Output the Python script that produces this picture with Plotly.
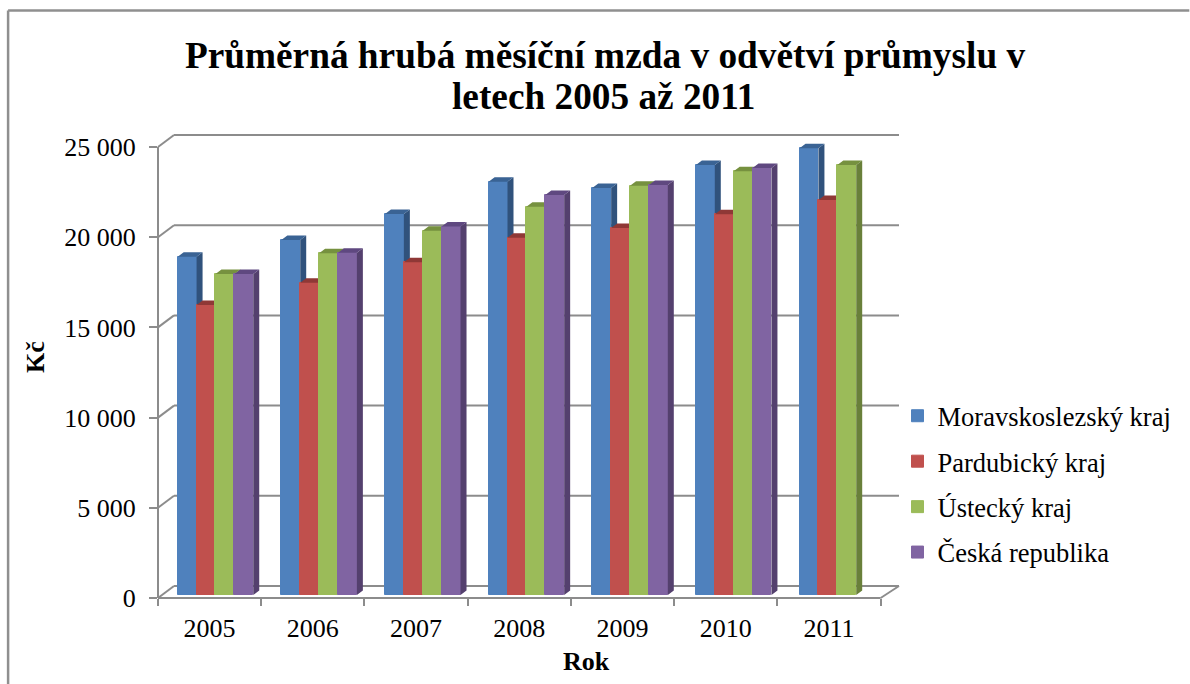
import plotly.graph_objects as go

years = ["2005", "2006", "2007", "2008", "2009", "2010", "2011"]
series_names = ["Moravskoslezský kraj", "Pardubický kraj", "Ústecký kraj", "Česká republika"]
moravskoslezsky = [18750, 19680, 21120, 22910, 22560, 23840, 24760]
pardubicky = [16080, 17310, 18440, 19810, 20340, 21100, 21900]
ustecky = [17790, 18940, 20190, 21520, 22690, 23490, 23840]
ceska_republika = [17790, 18970, 20420, 22170, 22730, 23670, None]
y_ticks = [0, 5000, 10000, 15000, 20000, 25000]
y_tick_labels = ["0", "5 000", "10 000", "15 000", "20 000", "25 000"]
title_line_1 = "Průměrná hrubá měsíční mzda v odvětví průmyslu v"
title_line_2 = "letech 2005 až 2011"

series_values = [moravskoslezsky, pardubicky, ustecky, ceska_republika]
front_colors = ["#4F81BD", "#C0504D", "#9BBB59", "#8064A2"]
side_colors = ["#30527C", "#843533", "#69803A", "#54406E"]
top_colors = ["#3A6394", "#8F3836", "#76913F", "#5F4880"]

FONT = "Liberation Serif"
GRID = "#8C8C8C"
W, H = 1190, 684
L, R, T, B = 158.0, 899.5, 135.0, 598.0
PX_X = 103.3
PX_Y = 18.04 / 1000
XMAX = (R - L) / PX_X
YMAX = (B - T) / PX_Y
FLOOR_X = 7.0
WALL_DX = 16.0 / PX_X
WALL_DY = 12.0 / PX_Y
BAR_W = 18.9 / PX_X
BAR_START = 19.7 / PX_X
BAR_STEP = 1.004
BASE = 3.0 / PX_Y
DEPTH_X = 6.0 / PX_X
DEPTH_Y = 4.5 / PX_Y


def nx(x):
    return x / XMAX


def ny(y):
    return y / YMAX


def px_x(p):
    return (p - L) / (R - L)


def px_y(p):
    return (B - p) / (B - T)


def line(x0, y0, x1, y1, color=GRID, width=2):
    return dict(type="line", xref="paper", yref="paper", x0=x0, y0=y0, x1=x1, y1=y1,
                line=dict(color=color, width=width), layer="below")


fig = go.Figure()

shapes = [
    line(px_x(8), px_y(10.5), px_x(1190), px_y(10.5), "#8F8F8F", 2.5),
    line(px_x(8), px_y(10.5), px_x(8), px_y(684), "#8F8F8F", 2.5),
    line(nx(0), ny(0), nx(0), ny(y_ticks[-1])),
    line(nx(0), ny(0), nx(FLOOR_X), ny(0)),
    line(nx(FLOOR_X), ny(0), nx(XMAX), ny(WALL_DY)),
]
for t in y_ticks:
    shapes.append(line(nx(0), ny(t), nx(WALL_DX), ny(t + WALL_DY)))
    shapes.append(line(nx(WALL_DX), ny(t + WALL_DY), nx(XMAX), ny(t + WALL_DY)))

for s, (name, vals) in enumerate(zip(series_names, series_values)):
    suffix = "" if s == 0 else str(s + 1)
    xa, ya = "x" + suffix, "y" + suffix
    lefts = [i * BAR_STEP + BAR_START + s * BAR_W for i in range(len(years))]
    centers = [l + BAR_W / 2 for l in lefts]
    fig.add_trace(go.Bar(
        x=centers, y=vals, base=BASE, width=BAR_W, name=name, xaxis=xa, yaxis=ya,
        marker=dict(color=front_colors[s], line=dict(width=1, color=front_colors[s])),
        legendgroup=name, hoverinfo="skip",
    ))
    sx, sy, tx, ty = [], [], [], []
    for l, v in zip(lefts, vals):
        if v is None:
            continue
        r = l + BAR_W
        top = v + BASE
        sx += [r, r + DEPTH_X, r + DEPTH_X, r, r, None]
        sy += [top, top + DEPTH_Y, BASE + DEPTH_Y, BASE, top, None]
        tx += [l, r, r + DEPTH_X, l + DEPTH_X, l, None]
        ty += [top, top, top + DEPTH_Y, top + DEPTH_Y, top, None]
    for fx, fy, col in ((sx, sy, side_colors[s]), (tx, ty, top_colors[s])):
        fig.add_trace(go.Scatter(
            x=fx, y=fy, mode="lines", fill="toself", fillcolor=col, line=dict(width=0),
            showlegend=False, xaxis=xa, yaxis=ya, hoverinfo="skip",
        ))

layout = dict(
    width=W, height=H, autosize=False,
    margin=dict(l=L, r=W - R, t=T, b=H - B, pad=0),
    paper_bgcolor="white", plot_bgcolor="rgba(0,0,0,0)",
    barmode="overlay", bargap=0,
    font=dict(family=FONT, color="black", size=26),
    title=dict(
        text="<b>" + title_line_1 + "</b>",
        x=605 / W, xref="container", xanchor="center", y=1 - 55 / H, yref="container", yanchor="middle",
        font=dict(family=FONT, size=37.3, color="black"),
    ),
    xaxis=dict(
        range=[0, XMAX], showgrid=False, zeroline=False, showline=False,
        tickmode="array", tickvals=[i + 0.5 for i in range(len(years))], ticktext=years,
        ticks="", ticklabelstandoff=12, tickfont=dict(family=FONT, size=26),
        minor=dict(tickmode="array", tickvals=list(range(len(years) + 1)), ticks="outside",
                   ticklen=7, tickwidth=2, tickcolor=GRID, showgrid=False),
    ),
    yaxis=dict(
        range=[0, YMAX], showgrid=False, zeroline=False, showline=False,
        tickmode="array", tickvals=y_ticks, ticktext=y_tick_labels,
        ticks="outside", ticklen=8, tickwidth=2, tickcolor=GRID, ticklabelstandoff=8,
        tickfont=dict(family=FONT, size=26),
    ),
    legend=dict(
        x=px_x(898), xanchor="left", y=px_y(392), yanchor="top",
        traceorder="grouped", tracegroupgap=8, bgcolor="rgba(0,0,0,0)",
        font=dict(family=FONT, size=26.5), itemwidth=30,
    ),
    shapes=shapes,
    annotations=[
        dict(text="<b>" + title_line_2 + "</b>", xref="paper", yref="paper", x=px_x(604), y=px_y(97),
             xanchor="center", yanchor="middle", showarrow=False, font=dict(family=FONT, size=37.3)),
        dict(text="<b>Rok</b>", xref="paper", yref="paper", x=px_x(587), y=px_y(661),
             xanchor="center", yanchor="middle", showarrow=False, font=dict(family=FONT, size=26)),
        dict(text="<b>Kč</b>", xref="paper", yref="paper", x=px_x(35), y=px_y(357),
             xanchor="center", yanchor="middle", showarrow=False, textangle=-90,
             font=dict(family=FONT, size=26)),
    ],
)
for s in range(1, len(series_names)):
    n = str(s + 1)
    layout["xaxis" + n] = dict(range=[0, XMAX], overlaying="x", visible=False)
    layout["yaxis" + n] = dict(range=[0, YMAX], overlaying="y", visible=False)
fig.update_layout(**layout)

fig.write_html("out.html", config=dict(displayModeBar=False),
               post_script="document.body.style.margin='0';document.body.style.overflow='hidden';")
